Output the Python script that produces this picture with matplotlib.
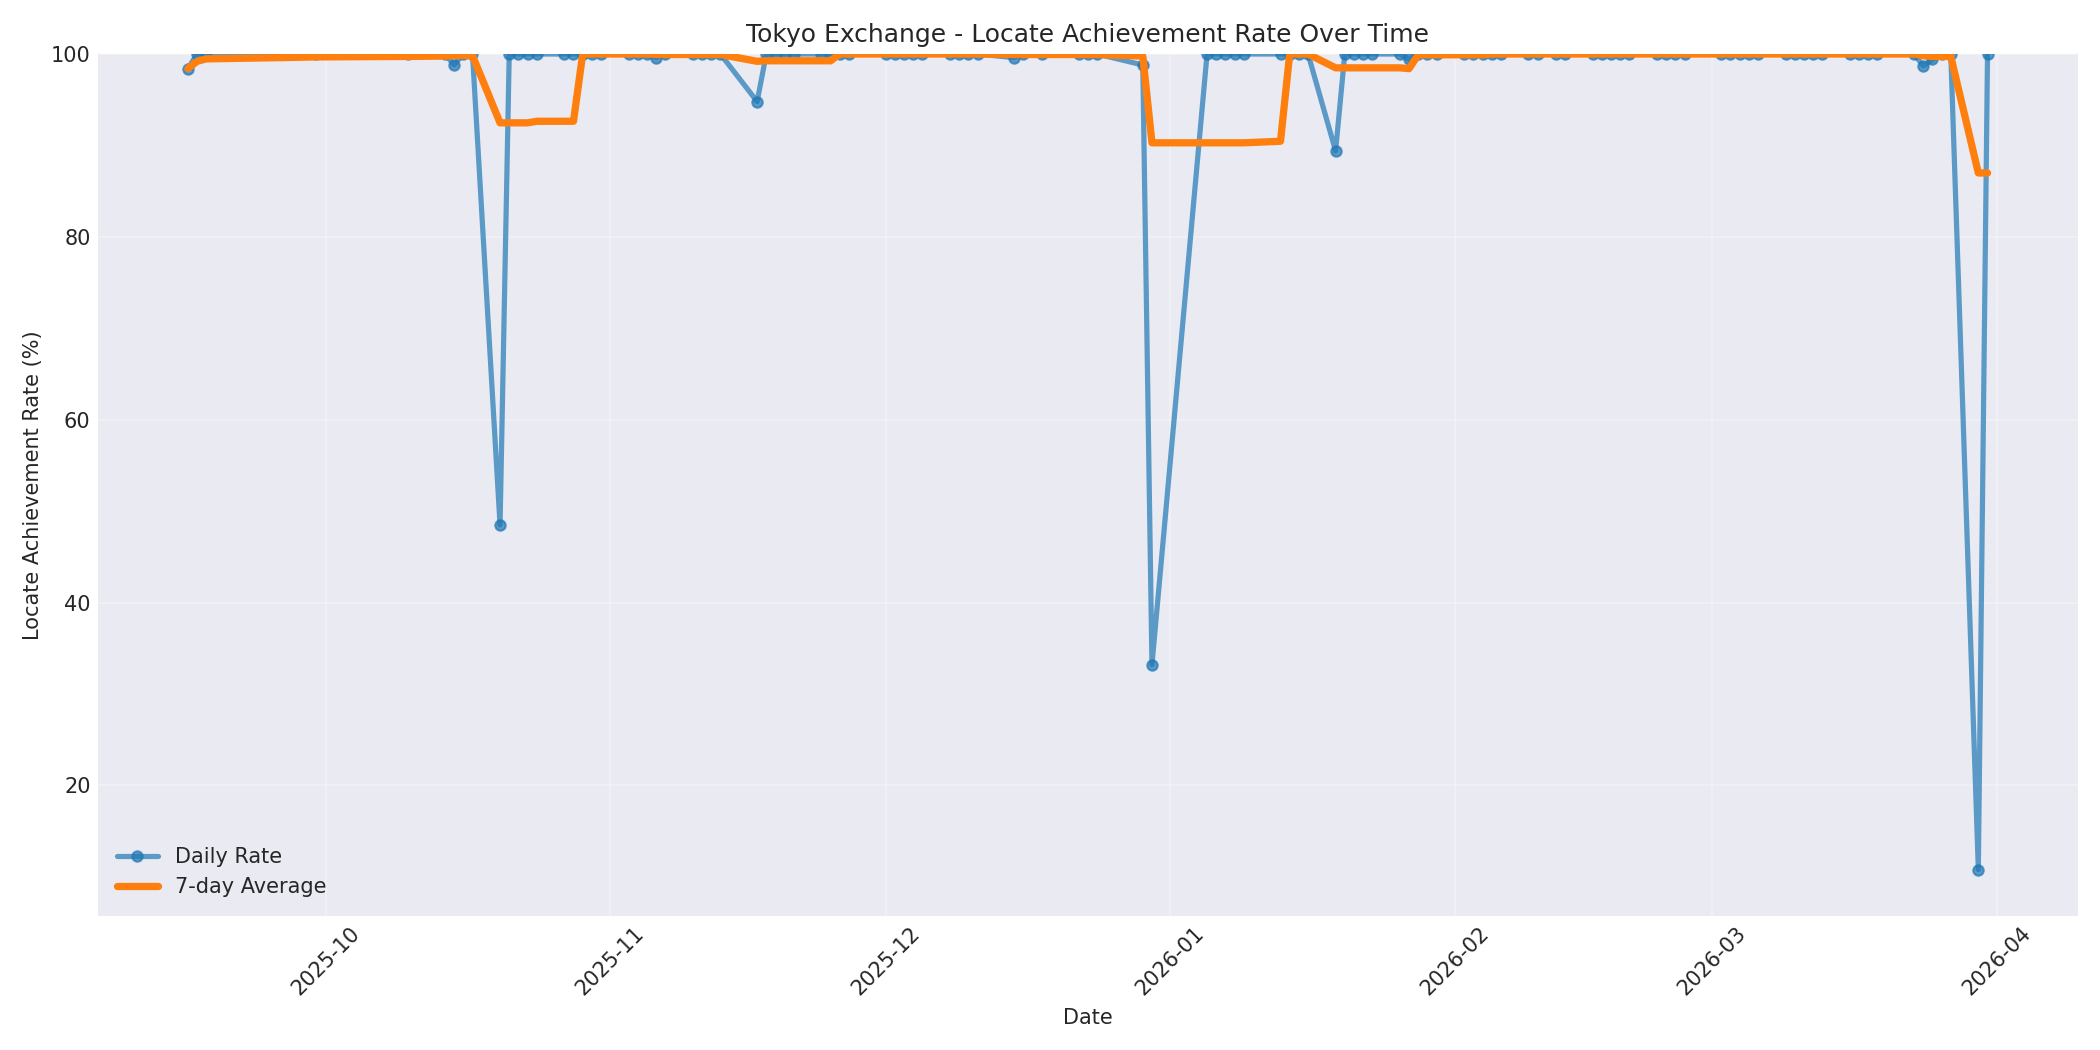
import matplotlib
matplotlib.use('Agg')
import matplotlib.pyplot as plt
import matplotlib.dates as mdates
import pandas as pd

#------
# daily locate achievement rate (business days)
dates = [
    '2025-09-16', '2025-09-17', '2025-09-18', '2025-09-26', '2025-09-30',
    '2025-10-10', '2025-10-14', '2025-10-15', '2025-10-16', '2025-10-17',
    '2025-10-20', '2025-10-21', '2025-10-22', '2025-10-23', '2025-10-24',
    '2025-10-27', '2025-10-28', '2025-10-29', '2025-10-30', '2025-10-31',
    '2025-11-03', '2025-11-04', '2025-11-05', '2025-11-06', '2025-11-07',
    '2025-11-10', '2025-11-11', '2025-11-12', '2025-11-13',
    '2025-11-17', '2025-11-18', '2025-11-19', '2025-11-20', '2025-11-21',
    '2025-11-24', '2025-11-25', '2025-11-26', '2025-11-27',
    '2025-12-01', '2025-12-02', '2025-12-03', '2025-12-04', '2025-12-05',
    '2025-12-08', '2025-12-09', '2025-12-10', '2025-12-11',
    '2025-12-15', '2025-12-16', '2025-12-18',
    '2025-12-22', '2025-12-23', '2025-12-24', '2025-12-29', '2025-12-30',
    '2026-01-05', '2026-01-06', '2026-01-07', '2026-01-08', '2026-01-09',
    '2026-01-13', '2026-01-14', '2026-01-15', '2026-01-16',
    '2026-01-19', '2026-01-20', '2026-01-21', '2026-01-22', '2026-01-23',
    '2026-01-26', '2026-01-27', '2026-01-28', '2026-01-29', '2026-01-30',
    '2026-02-02', '2026-02-03', '2026-02-04', '2026-02-05', '2026-02-06',
    '2026-02-09', '2026-02-10', '2026-02-12', '2026-02-13',
    '2026-02-16', '2026-02-17', '2026-02-18', '2026-02-19', '2026-02-20',
    '2026-02-23', '2026-02-24', '2026-02-25', '2026-02-26',
    '2026-03-02', '2026-03-03', '2026-03-04', '2026-03-05', '2026-03-06',
    '2026-03-09', '2026-03-10', '2026-03-11', '2026-03-12', '2026-03-13',
    '2026-03-16', '2026-03-17', '2026-03-18', '2026-03-19',
    '2026-03-23', '2026-03-24', '2026-03-25', '2026-03-26', '2026-03-27',
    '2026-03-30', '2026-03-31',
]

rates = [
    98.4, 100, 100, 100, 100,
    100, 100, 98.8, 100, 100,
    48.5, 100, 100, 100, 100,
    100, 100, 100, 100, 100,
    100, 100, 100, 99.6, 100,
    100, 100, 100, 100,
    94.8, 100, 100, 100, 100,
    100, 100, 100, 100,
    100, 100, 100, 100, 100,
    100, 100, 100, 100,
    99.6, 100, 100,
    100, 100, 100, 98.8, 33.2,
    100, 100, 100, 100, 100,
    100, 100, 100, 100,
    89.4, 100, 100, 100, 100,
    100, 99.4, 100, 100, 100,
    100, 100, 100, 100, 100,
    100, 100, 100, 100,
    100, 100, 100, 100, 100,
    100, 100, 100, 100,
    100, 100, 100, 100, 100,
    100, 100, 100, 100, 100,
    100, 100, 100, 100,
    100, 98.7, 99.4, 100, 100,
    10.8, 100,
]

#------
# rolling average over 7 observations
df = pd.DataFrame({'date': pd.to_datetime(dates), 'rate': rates})
df['avg7'] = df['rate'].rolling(7, min_periods=1).mean()

#------
# plot
plt.style.use('seaborn-v0_8-darkgrid')
plt.rcParams['font.family'] = ['DejaVu Sans']
fig, ax = plt.subplots(figsize=(14, 7), dpi=150)

ax.plot(df['date'], df['rate'], marker='o', markersize=5, linewidth=2.5,
        alpha=0.7, color='#1f77b4', label='Daily Rate')
ax.plot(df['date'], df['avg7'], linewidth=3.5, color='#ff7f0e',
        label='7-day Average')

ax.set_title('Tokyo Exchange - Locate Achievement Rate Over Time', fontsize=12)
ax.set_xlabel('Date', fontsize=10)
ax.set_ylabel('Locate Achievement Rate (%)', fontsize=10)
ax.set_ylim(5.7, 100)
ax.xaxis.set_major_locator(mdates.MonthLocator())
ax.xaxis.set_major_formatter(mdates.DateFormatter('%Y-%m'))
plt.setp(ax.get_xticklabels(), rotation=45)
ax.tick_params(labelsize=10)
ax.legend(loc='lower left', fontsize=10)
ax.grid(True, alpha=0.3)

plt.tight_layout()
plt.savefig('out.png', dpi=150)
